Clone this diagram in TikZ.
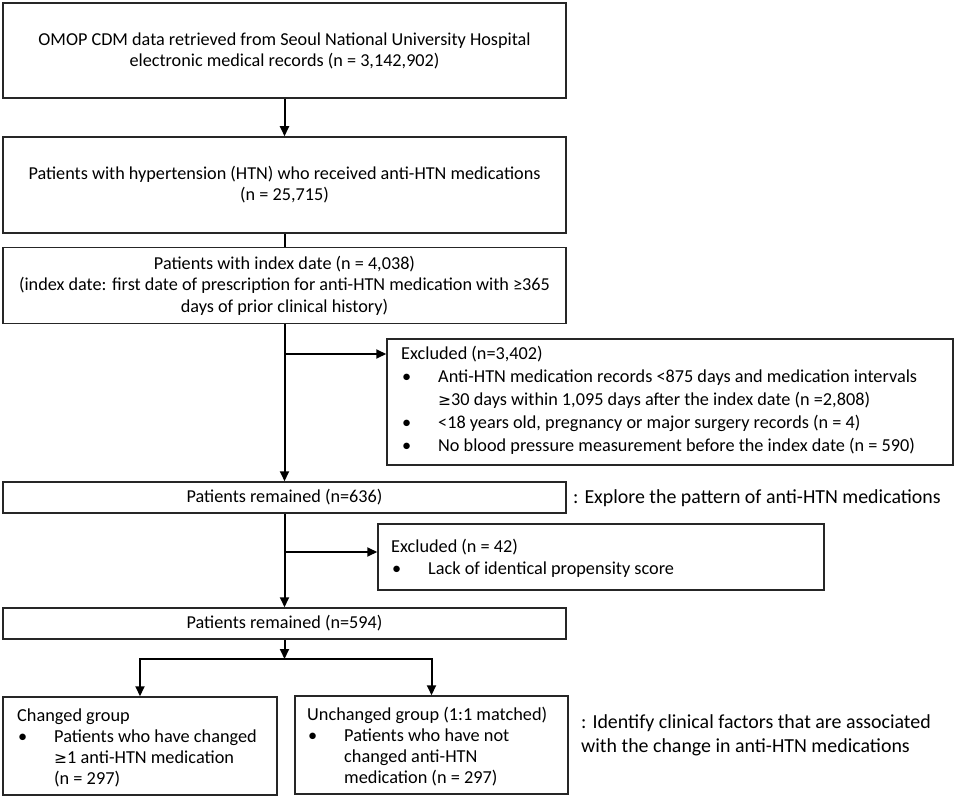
\documentclass[tikz,border=0pt]{standalone}
\usepackage{fontspec}
\setmainfont{Carlito}
\newfontfamily\symfont{DejaVu Sans}
\usetikzlibrary{arrows.meta}
\newcommand{\bul}{\makebox[37pt][l]{\hspace*{1pt}\textbullet}}
\newcommand{\ind}{\hspace*{37pt}}
\newcommand{\gesym}{{\symfont\fontsize{15.5}{18}\selectfont ≥}}
\begin{document}
\begin{tikzpicture}[x=1pt,y=-1pt,
  frame/.style={draw=black!85, line width=1.5pt, rectangle, inner sep=0pt},
  mainbox/.style={frame, align=center, font=\fontsize{18.2}{21}\selectfont},
  listtxt/.style={inner sep=0pt, anchor=west, align=left, font=\fontsize{18.3}{21}\selectfont},
  note/.style={inner sep=0pt, anchor=west, align=left, font=\fontsize{19.9}{23.5}\selectfont},
  conn/.style={line width=2pt, black},
  arr/.style={conn, -{Triangle[length=10pt,width=9pt]}}]
\useasboundingbox[fill=white] (0,0) rectangle (957,799);

\node[mainbox, minimum width=563pt, minimum height=95pt] (b1) at (284.5,50.5)
  {OMOP CDM data retrieved from Seoul National University Hospital\\electronic medical records (n = 3,142,902)};
\node[mainbox, minimum width=563pt, minimum height=96pt] (b2) at (284.5,185)
  {Patients with hypertension (HTN) who received anti-HTN medications\\(n = 25,715)};
\node[mainbox, minimum width=563pt, minimum height=76pt, font=\fontsize{18.2}{21.5}\selectfont] (b3) at (284.5,285.5)
  {Patients with index date (n = 4,038)\\(index date: first date of prescription for anti-HTN medication with ≥365\\days of prior clinical history)};

\node[frame, minimum width=566pt, minimum height=126pt] (ex1) at (670,402) {};
\node[listtxt, font=\fontsize{18.25}{23}\selectfont] (ex1t) at (401,400.5)
  {Excluded (n=3,402)\\
   \bul Anti-HTN medication records <875 days and medication intervals\\
   \ind\gesym 30 days within 1,095 days after the index date (n =2,808)\\
   \bul <18 years old, pregnancy or major surgery records (n = 4)\\
   \bul No blood pressure measurement before the index date (n = 590)};

\node[mainbox, minimum width=563pt, minimum height=31pt] (b4) at (284.5,497.5)
  {Patients remained (n=636)};
\node[note] (t1) at (573,498) {: Explore the pattern of anti-HTN medications};

\node[frame, minimum width=446pt, minimum height=66pt] (ex2) at (601,557) {};
\node[listtxt, font=\fontsize{18.25}{22}\selectfont] (ex2t) at (391,558)
  {Excluded (n = 42)\\
   \bul Lack of identical propensity score};

\node[mainbox, minimum width=563pt, minimum height=31pt] (b5) at (284.5,623.5)
  {Patients remained (n=594)};

\node[frame, minimum width=274pt, minimum height=98pt] (ch) at (140,746) {};
\node[listtxt] (cht) at (17,748)
  {Changed group\\
   \bul Patients who have changed\\
   \ind\gesym 1 anti-HTN medication\\
   \ind(n = 297)};
\node[frame, minimum width=273pt, minimum height=98pt] (un) at (431.5,745) {};
\node[listtxt] (unt) at (307,747)
  {Unchanged group (1:1 matched)\\
   \bul Patients who have not\\
   \ind changed anti-HTN\\
   \ind medication (n = 297)};
\node[note] (t2) at (581,735.5) {: Identify clinical factors that are associated\\with the change in anti-HTN medications};

\coordinate (j1) at (284.5,354);
\coordinate (j2) at (284.5,552);
\coordinate (j3) at (284.5,659);
\coordinate (jl) at (ch.north |- j3);
\coordinate (jr) at (un.north |- j3);

\draw[arr] (b1.south) -- (b2.north);
\draw[conn] (b2.south) -- (b3.north);
\draw[arr] (b3.south) -- (b4.north);
\draw[arr] (j1) -- (j1 -| ex1.west);
\draw[arr] (b4.south) -- (b5.north);
\draw[arr] (j2) -- (j2 -| ex2.west);
\draw[arr] (b5.south) -- (j3);
\draw[conn, line cap=rect] (jl) -- (jr);
\draw[arr] (jl) -- (ch.north);
\draw[arr] (jr) -- (un.north);
\end{tikzpicture}
\end{document}
